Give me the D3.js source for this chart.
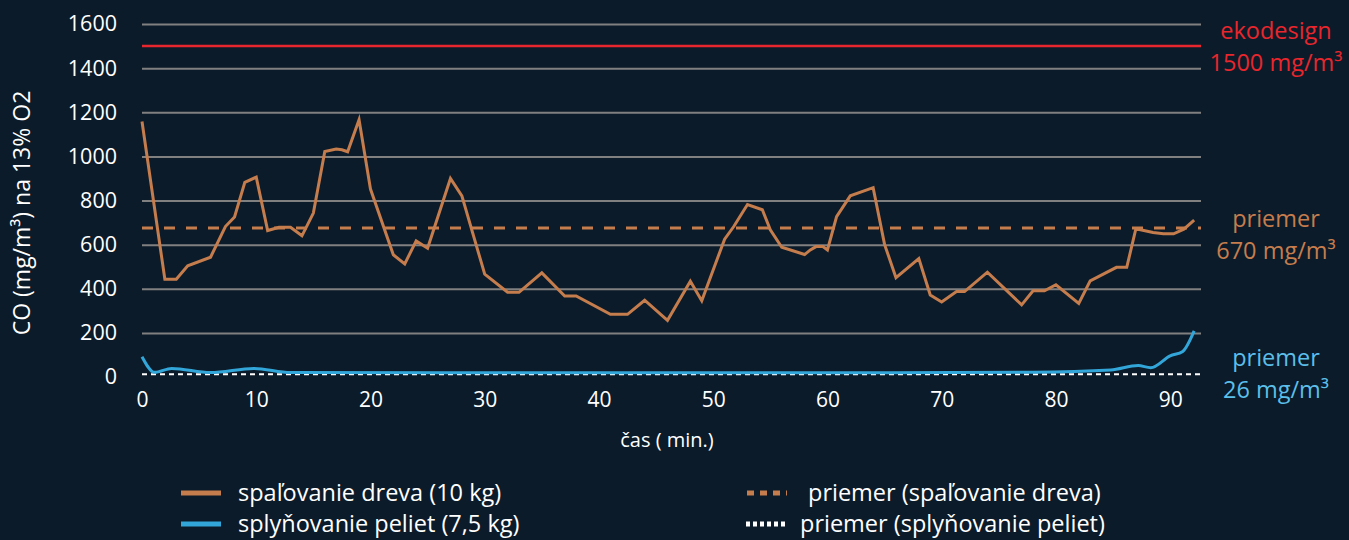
<!DOCTYPE html>
<html>
<head>
<meta charset="utf-8">
<script src="https://cdn.jsdelivr.net/npm/d3@7"></script>
<style>
  body { margin: 0; background: #0c1b29; }
  text { font-family: "Open Sans", "Noto Sans", sans-serif; }
</style>
</head>
<body>
<div id="chart"></div>
<script>
/* CO emisie - drevo vs pelety */

const height = 540,
    width = 1349,
    margin = ({ top: 24, right: 148, bottom: 163, left: 142 });

/* data: [minute, mg/m3] */
const woodTimes  = [0, 2, 3, 4, 6, 7.3, 8.1, 9, 10, 11, 12, 13, 14, 15, 16, 17, 17.5, 18, 19, 20,
    22, 23, 24, 25, 27, 28, 30, 32, 33, 35, 37, 38, 41, 42.5, 44, 46, 48, 49, 51, 51.8,
    53, 54.3, 55, 56, 58, 58.5, 59, 59.6, 60, 60.8, 62, 64, 65, 66, 68, 69, 70, 71.3, 72, 74,
    77, 78, 79, 80, 82, 83, 85.3, 86.2, 87, 87.7, 88.5, 89.4, 90.3, 91.2, 92.1];
const woodValues = [1158, 443, 443, 504, 543, 682, 725, 882, 906, 664, 679, 679, 640, 743, 1022, 1033, 1030, 1021, 1166, 852,
    554, 513, 617, 584, 900, 821, 466, 384, 384, 472, 367, 367, 284, 284, 348, 257, 434, 346, 625, 682,
    782, 758, 667, 588, 555, 576, 591, 591, 576, 727, 821, 858, 601, 450, 537, 372, 340, 387, 387, 475,
    327, 391, 391, 418, 334, 436, 497, 497, 672, 664, 655, 649, 649, 670, 711];

const pelletTimes  = [0, 1.1, 2.6, 6, 9.8, 13, 40, 60, 78, 84.8, 87.2, 88.3, 90, 91.1, 92.1];
const pelletValues = [92, 21, 39, 20, 39, 20, 19, 19, 22, 32, 52, 42, 96, 116, 209];

const limitValue = 1500;      // ekodesign
const woodAvgLine = 675;      // priemer 670 mg/m3
const pelletAvgLine = 12;     // priemer 26 mg/m3 (drawn near the axis)

const yTicks = [0, 200, 400, 600, 800, 1000, 1200, 1400, 1600];
const xTicks = [0, 10, 20, 30, 40, 50, 60, 70, 80, 90];

const legendItems = [
    { label: "spaľovanie dreva (10 kg)", color: "#c57d4d", dash: null },
    { label: "splyňovanie peliet (7,5 kg)", color: "#33a6d9", dash: null },
    { label: "priemer (spaľovanie dreva)", color: "#c57d4d", dash: "7,6" },
    { label: "priemer (splyňovanie peliet)", color: "#ffffff", dash: "4,3" }
];

const svg = d3.select("#chart")
    .append("svg")
    .attr("width", width)
    .attr("height", height)
    .attr("viewBox", [0, 0, width, height]);

svg.append("rect")
    .attr("width", width)
    .attr("height", height)
    .attr("fill", "#0c1b29");

const wood = woodTimes.map((t, i) => ({ t: t, v: woodValues[i] }));
const pellet = pelletTimes.map((t, i) => ({ t: t, v: pelletValues[i] }));

let x = d3.scaleLinear()
    .domain([0, 92.7])
    .range([margin.left, width - margin.right]);

let y = d3.scaleLinear()
    .domain([0, 1600])
    .range([height - margin.bottom, margin.top]);

const tickFont = "'Open Sans', sans-serif";

/* gridlines + y labels */
svg.append("g")
    .attr("class", "y-axis")
    .attr("transform", `translate(${margin.left},0)`)
    .call(d3.axisLeft(y).tickValues(yTicks).tickFormat(d3.format("d"))
        .tickSize(-(width - margin.right - margin.left)).tickPadding(25))
    .call(g => g.select(".domain").remove())
    .call(g => g.selectAll(".tick line").filter(d => d === 0).remove())
    .call(g => g.selectAll(".tick line").attr("stroke", "#808080").attr("stroke-width", 2))
    .call(g => g.selectAll(".tick text").attr("fill", "#ffffff").attr("font-size", 21.5).attr("font-family", tickFont));

svg.append("g")
    .attr("class", "x-axis")
    .attr("transform", `translate(0,${height - margin.bottom})`)
    .call(d3.axisBottom(x).tickValues(xTicks).tickSize(0).tickPadding(15))
    .call(g => g.select(".domain").remove())
    .call(g => g.selectAll(".tick text").attr("fill", "#ffffff").attr("font-size", 21).attr("font-family", tickFont));

/* horizontal reference lines */
const hline = (val, color, w, dash) => svg.append("line")
    .attr("x1", x(0)).attr("x2", width - margin.right)
    .attr("y1", y(val)).attr("y2", y(val))
    .attr("stroke", color)
    .attr("stroke-width", w)
    .attr("stroke-dasharray", dash);

hline(limitValue, "#e8262d", 2.5, null);
hline(woodAvgLine, "#c57d4d", 3, "11,11");
hline(pelletAvgLine, "#ffffff", 2, "5,4");

/* lines */
let line = d3.line()
    .x(d => x(d.t))
    .y(d => y(d.v));

svg.append("path")
    .datum(pellet)
    .attr("d", line.curve(d3.curveMonotoneX))
    .attr("fill", "none")
    .attr("stroke", "#33a6d9")
    .attr("stroke-width", 3);

svg.append("path")
    .datum(wood)
    .attr("d", line.curve(d3.curveLinear))
    .attr("fill", "none")
    .attr("stroke", "#c57d4d")
    .attr("stroke-width", 3);

/* axis titles */
svg.append("text")
    .attr("text-anchor", "middle")
    .attr("x", 667)
    .attr("y", 447)
    .attr("fill", "#ffffff")
    .attr("font-size", 20)
    .text("čas ( min.)");

svg.append("text")
    .attr("text-anchor", "middle")
    .attr("transform", "translate(30,213) rotate(-90)")
    .attr("fill", "#ffffff")
    .attr("font-size", 23)
    .text("CO (mg/m³) na 13% O2");

/* right side annotations */
const notes = [
    { lines: ["ekodesign", "1500 mg/m³"], y: 39, color: "#e8262d" },
    { lines: ["priemer", "670 mg/m³"], y: 227, color: "#c57d4d" },
    { lines: ["priemer", "26 mg/m³"], y: 366, color: "#5bbfe9" }
];

notes.forEach(n => {
    n.lines.forEach((l, i) => {
        svg.append("text")
            .attr("text-anchor", "middle")
            .attr("x", 1276)
            .attr("y", n.y + i * 32)
            .attr("fill", n.color)
            .attr("font-size", 23.5)
            .text(l);
    });
});

/* legend */
const legendPos = [[181, 493, 57], [181, 524, 57], [747, 493, 61], [746, 524, 54]];

legendItems.forEach((item, i) => {
    const [lx, ly, off] = legendPos[i];
    svg.append("line")
        .attr("x1", lx).attr("x2", lx + 40)
        .attr("y1", ly).attr("y2", ly)
        .attr("stroke", item.color)
        .attr("stroke-width", 5)
        .attr("stroke-dasharray", item.dash);
    svg.append("text")
        .attr("x", lx + off)
        .attr("y", ly + 8)
        .attr("fill", "#ffffff")
        .attr("font-size", 23.5)
        .text(item.label);
});
</script>
</body>
</html>
